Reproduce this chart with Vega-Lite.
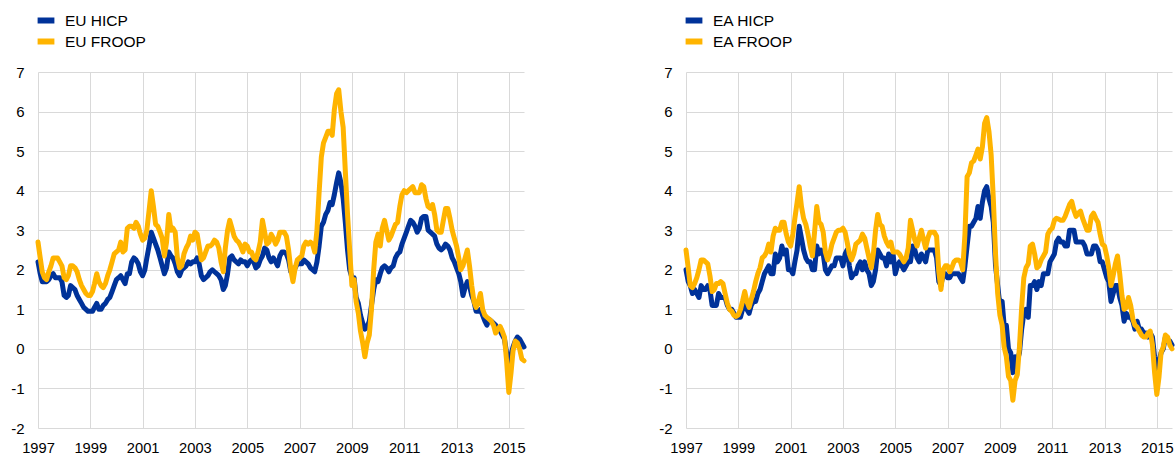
{
  "$schema": "https://vega.github.io/schema/vega-lite/v6.json",
  "padding": {"left": 10, "top": 10, "right": 0, "bottom": 0},
  "background": "white",
  "config": {
    "view": {"stroke": null},
    "axis": {"labelFont": "Liberation Sans", "labelFontSize": 15, "labelColor": "#000000", "gridColor": "#d9d9d9", "gridWidth": 1, "ticks": false, "domain": false, "title": null},
    "legend": {"labelFont": "Liberation Sans", "labelFontSize": 15.5, "labelColor": "#000000"}
  },
  "spacing": 131,
  "resolve": {"scale": {"color": "independent"}},
  "datasets": {
    "d": [
      {"date":"1997-01","EU HICP":2.2,"EU FROOP":2.7,"EA HICP":2.0,"EA FROOP":2.5},
      {"date":"1997-02","EU HICP":1.9,"EU FROOP":2.3,"EA HICP":1.7,"EA FROOP":2.05},
      {"date":"1997-03","EU HICP":1.7,"EU FROOP":1.95,"EA HICP":1.6,"EA FROOP":1.6},
      {"date":"1997-04","EU HICP":1.7,"EU FROOP":1.8,"EA HICP":1.4,"EA FROOP":1.55},
      {"date":"1997-05","EU HICP":1.7,"EU FROOP":1.75,"EA HICP":1.5,"EA FROOP":1.65},
      {"date":"1997-06","EU HICP":1.75,"EU FROOP":1.95,"EA HICP":1.4,"EA FROOP":1.8},
      {"date":"1997-07","EU HICP":1.85,"EU FROOP":2.1,"EA HICP":1.3,"EA FROOP":2.0},
      {"date":"1997-08","EU HICP":1.9,"EU FROOP":2.3,"EA HICP":1.6,"EA FROOP":2.25},
      {"date":"1997-09","EU HICP":1.8,"EU FROOP":2.3,"EA HICP":1.5,"EA FROOP":2.25},
      {"date":"1997-10","EU HICP":1.8,"EU FROOP":2.3,"EA HICP":1.5,"EA FROOP":2.2},
      {"date":"1997-11","EU HICP":1.8,"EU FROOP":2.2,"EA HICP":1.6,"EA FROOP":2.15},
      {"date":"1997-12","EU HICP":1.7,"EU FROOP":2.1,"EA HICP":1.5,"EA FROOP":1.85},
      {"date":"1998-01","EU HICP":1.35,"EU FROOP":1.8,"EA HICP":1.1,"EA FROOP":1.45},
      {"date":"1998-02","EU HICP":1.3,"EU FROOP":1.75,"EA HICP":1.1,"EA FROOP":1.5},
      {"date":"1998-03","EU HICP":1.35,"EU FROOP":1.85,"EA HICP":1.1,"EA FROOP":1.65},
      {"date":"1998-04","EU HICP":1.6,"EU FROOP":2.1,"EA HICP":1.4,"EA FROOP":1.65},
      {"date":"1998-05","EU HICP":1.55,"EU FROOP":2.1,"EA HICP":1.3,"EA FROOP":1.7},
      {"date":"1998-06","EU HICP":1.5,"EU FROOP":2.05,"EA HICP":1.3,"EA FROOP":1.65},
      {"date":"1998-07","EU HICP":1.35,"EU FROOP":1.95,"EA HICP":1.3,"EA FROOP":1.4},
      {"date":"1998-08","EU HICP":1.25,"EU FROOP":1.75,"EA HICP":1.1,"EA FROOP":1.15},
      {"date":"1998-09","EU HICP":1.15,"EU FROOP":1.6,"EA HICP":1.0,"EA FROOP":1.0},
      {"date":"1998-10","EU HICP":1.05,"EU FROOP":1.5,"EA HICP":1.0,"EA FROOP":0.95},
      {"date":"1998-11","EU HICP":1.0,"EU FROOP":1.4,"EA HICP":0.9,"EA FROOP":0.85},
      {"date":"1998-12","EU HICP":0.95,"EU FROOP":1.35,"EA HICP":0.8,"EA FROOP":0.82},
      {"date":"1999-01","EU HICP":0.95,"EU FROOP":1.35,"EA HICP":0.8,"EA FROOP":0.86},
      {"date":"1999-02","EU HICP":0.95,"EU FROOP":1.45,"EA HICP":0.8,"EA FROOP":1.0},
      {"date":"1999-03","EU HICP":1.05,"EU FROOP":1.65,"EA HICP":1.0,"EA FROOP":1.2},
      {"date":"1999-04","EU HICP":1.15,"EU FROOP":1.9,"EA HICP":1.1,"EA FROOP":1.45},
      {"date":"1999-05","EU HICP":1.0,"EU FROOP":1.7,"EA HICP":1.0,"EA FROOP":1.2},
      {"date":"1999-06","EU HICP":1.0,"EU FROOP":1.6,"EA HICP":0.9,"EA FROOP":1.05},
      {"date":"1999-07","EU HICP":1.1,"EU FROOP":1.55,"EA HICP":1.1,"EA FROOP":1.25},
      {"date":"1999-08","EU HICP":1.15,"EU FROOP":1.65,"EA HICP":1.2,"EA FROOP":1.45},
      {"date":"1999-09","EU HICP":1.25,"EU FROOP":1.85,"EA HICP":1.2,"EA FROOP":1.7},
      {"date":"1999-10","EU HICP":1.3,"EU FROOP":2.0,"EA HICP":1.4,"EA FROOP":1.9},
      {"date":"1999-11","EU HICP":1.45,"EU FROOP":2.2,"EA HICP":1.5,"EA FROOP":2.05},
      {"date":"1999-12","EU HICP":1.6,"EU FROOP":2.4,"EA HICP":1.7,"EA FROOP":2.3},
      {"date":"2000-01","EU HICP":1.75,"EU FROOP":2.45,"EA HICP":1.9,"EA FROOP":2.35},
      {"date":"2000-02","EU HICP":1.8,"EU FROOP":2.5,"EA HICP":2.0,"EA FROOP":2.45},
      {"date":"2000-03","EU HICP":1.85,"EU FROOP":2.7,"EA HICP":2.1,"EA FROOP":2.65},
      {"date":"2000-04","EU HICP":1.75,"EU FROOP":2.45,"EA HICP":1.9,"EA FROOP":2.45},
      {"date":"2000-05","EU HICP":1.65,"EU FROOP":2.5,"EA HICP":1.9,"EA FROOP":2.85},
      {"date":"2000-06","EU HICP":1.9,"EU FROOP":3.05,"EA HICP":2.4,"EA FROOP":3.05},
      {"date":"2000-07","EU HICP":1.9,"EU FROOP":3.1,"EA HICP":2.2,"EA FROOP":3.0},
      {"date":"2000-08","EU HICP":2.2,"EU FROOP":3.1,"EA HICP":2.3,"EA FROOP":3.0},
      {"date":"2000-09","EU HICP":2.3,"EU FROOP":3.05,"EA HICP":2.6,"EA FROOP":3.2},
      {"date":"2000-10","EU HICP":2.25,"EU FROOP":3.2,"EA HICP":2.4,"EA FROOP":3.2},
      {"date":"2000-11","EU HICP":2.15,"EU FROOP":3.1,"EA HICP":2.5,"EA FROOP":2.9},
      {"date":"2000-12","EU HICP":1.95,"EU FROOP":2.9,"EA HICP":2.0,"EA FROOP":2.7},
      {"date":"2001-01","EU HICP":1.85,"EU FROOP":2.75,"EA HICP":2.0,"EA FROOP":2.6},
      {"date":"2001-02","EU HICP":2.0,"EU FROOP":2.8,"EA HICP":1.9,"EA FROOP":2.9},
      {"date":"2001-03","EU HICP":2.3,"EU FROOP":3.0,"EA HICP":2.2,"EA FROOP":3.3},
      {"date":"2001-04","EU HICP":2.6,"EU FROOP":3.5,"EA HICP":2.5,"EA FROOP":3.7},
      {"date":"2001-05","EU HICP":2.95,"EU FROOP":4.0,"EA HICP":3.1,"EA FROOP":4.1},
      {"date":"2001-06","EU HICP":2.8,"EU FROOP":3.6,"EA HICP":2.8,"EA FROOP":3.6},
      {"date":"2001-07","EU HICP":2.65,"EU FROOP":3.15,"EA HICP":2.5,"EA FROOP":3.3},
      {"date":"2001-08","EU HICP":2.5,"EU FROOP":3.1,"EA HICP":2.3,"EA FROOP":3.15},
      {"date":"2001-09","EU HICP":2.3,"EU FROOP":2.95,"EA HICP":2.2,"EA FROOP":2.9},
      {"date":"2001-10","EU HICP":2.1,"EU FROOP":2.8,"EA HICP":2.2,"EA FROOP":2.6},
      {"date":"2001-11","EU HICP":1.9,"EU FROOP":2.35,"EA HICP":2.0,"EA FROOP":2.35},
      {"date":"2001-12","EU HICP":2.05,"EU FROOP":2.7,"EA HICP":2.0,"EA FROOP":2.95},
      {"date":"2002-01","EU HICP":2.45,"EU FROOP":3.4,"EA HICP":2.6,"EA FROOP":3.6},
      {"date":"2002-02","EU HICP":2.35,"EU FROOP":3.0,"EA HICP":2.4,"EA FROOP":3.2},
      {"date":"2002-03","EU HICP":2.3,"EU FROOP":3.05,"EA HICP":2.5,"EA FROOP":3.15},
      {"date":"2002-04","EU HICP":2.15,"EU FROOP":2.95,"EA HICP":2.4,"EA FROOP":2.95},
      {"date":"2002-05","EU HICP":1.95,"EU FROOP":2.3,"EA HICP":2.0,"EA FROOP":2.45},
      {"date":"2002-06","EU HICP":1.85,"EU FROOP":2.05,"EA HICP":1.9,"EA FROOP":2.25},
      {"date":"2002-07","EU HICP":2.0,"EU FROOP":2.1,"EA HICP":2.0,"EA FROOP":2.4},
      {"date":"2002-08","EU HICP":2.05,"EU FROOP":2.4,"EA HICP":2.1,"EA FROOP":2.65},
      {"date":"2002-09","EU HICP":2.1,"EU FROOP":2.55,"EA HICP":2.1,"EA FROOP":2.8},
      {"date":"2002-10","EU HICP":2.2,"EU FROOP":2.65,"EA HICP":2.3,"EA FROOP":2.95},
      {"date":"2002-11","EU HICP":2.15,"EU FROOP":2.85,"EA HICP":2.3,"EA FROOP":3.0},
      {"date":"2002-12","EU HICP":2.2,"EU FROOP":2.75,"EA HICP":2.3,"EA FROOP":3.0},
      {"date":"2003-01","EU HICP":2.2,"EU FROOP":2.95,"EA HICP":2.1,"EA FROOP":3.05},
      {"date":"2003-02","EU HICP":2.3,"EU FROOP":2.9,"EA HICP":2.4,"EA FROOP":2.95},
      {"date":"2003-03","EU HICP":2.15,"EU FROOP":2.6,"EA HICP":2.5,"EA FROOP":2.7},
      {"date":"2003-04","EU HICP":1.85,"EU FROOP":2.25,"EA HICP":2.1,"EA FROOP":2.4},
      {"date":"2003-05","EU HICP":1.75,"EU FROOP":2.3,"EA HICP":1.8,"EA FROOP":2.25},
      {"date":"2003-06","EU HICP":1.8,"EU FROOP":2.45,"EA HICP":1.9,"EA FROOP":2.4},
      {"date":"2003-07","EU HICP":1.85,"EU FROOP":2.6,"EA HICP":1.9,"EA FROOP":2.65},
      {"date":"2003-08","EU HICP":1.95,"EU FROOP":2.6,"EA HICP":2.1,"EA FROOP":2.7},
      {"date":"2003-09","EU HICP":2.0,"EU FROOP":2.65,"EA HICP":2.2,"EA FROOP":2.75},
      {"date":"2003-10","EU HICP":1.95,"EU FROOP":2.75,"EA HICP":2.0,"EA FROOP":2.9},
      {"date":"2003-11","EU HICP":1.9,"EU FROOP":2.7,"EA HICP":2.2,"EA FROOP":2.8},
      {"date":"2003-12","EU HICP":1.85,"EU FROOP":2.55,"EA HICP":2.0,"EA FROOP":2.55},
      {"date":"2004-01","EU HICP":1.75,"EU FROOP":2.2,"EA HICP":1.9,"EA FROOP":2.3},
      {"date":"2004-02","EU HICP":1.5,"EU FROOP":1.95,"EA HICP":1.6,"EA FROOP":2.05},
      {"date":"2004-03","EU HICP":1.6,"EU FROOP":2.55,"EA HICP":1.7,"EA FROOP":2.4},
      {"date":"2004-04","EU HICP":1.9,"EU FROOP":3.0,"EA HICP":2.0,"EA FROOP":3.0},
      {"date":"2004-05","EU HICP":2.3,"EU FROOP":3.25,"EA HICP":2.5,"EA FROOP":3.4},
      {"date":"2004-06","EU HICP":2.35,"EU FROOP":3.05,"EA HICP":2.4,"EA FROOP":3.15},
      {"date":"2004-07","EU HICP":2.25,"EU FROOP":2.85,"EA HICP":2.3,"EA FROOP":3.1},
      {"date":"2004-08","EU HICP":2.2,"EU FROOP":2.75,"EA HICP":2.3,"EA FROOP":2.85},
      {"date":"2004-09","EU HICP":2.15,"EU FROOP":2.7,"EA HICP":2.1,"EA FROOP":2.7},
      {"date":"2004-10","EU HICP":2.25,"EU FROOP":2.6,"EA HICP":2.4,"EA FROOP":2.6},
      {"date":"2004-11","EU HICP":2.2,"EU FROOP":2.45,"EA HICP":2.2,"EA FROOP":2.7},
      {"date":"2004-12","EU HICP":2.2,"EU FROOP":2.65,"EA HICP":2.4,"EA FROOP":2.45},
      {"date":"2005-01","EU HICP":2.1,"EU FROOP":2.6,"EA HICP":1.9,"EA FROOP":2.45},
      {"date":"2005-02","EU HICP":2.2,"EU FROOP":2.45,"EA HICP":2.1,"EA FROOP":2.45},
      {"date":"2005-03","EU HICP":2.25,"EU FROOP":2.45,"EA HICP":2.2,"EA FROOP":2.4},
      {"date":"2005-04","EU HICP":2.2,"EU FROOP":2.3,"EA HICP":2.1,"EA FROOP":2.3},
      {"date":"2005-05","EU HICP":2.05,"EU FROOP":2.25,"EA HICP":2.0,"EA FROOP":2.2},
      {"date":"2005-06","EU HICP":2.1,"EU FROOP":2.45,"EA HICP":2.1,"EA FROOP":2.3},
      {"date":"2005-07","EU HICP":2.25,"EU FROOP":2.7,"EA HICP":2.2,"EA FROOP":2.55},
      {"date":"2005-08","EU HICP":2.35,"EU FROOP":3.25,"EA HICP":2.2,"EA FROOP":3.25},
      {"date":"2005-09","EU HICP":2.55,"EU FROOP":2.95,"EA HICP":2.6,"EA FROOP":3.0},
      {"date":"2005-10","EU HICP":2.5,"EU FROOP":2.65,"EA HICP":2.5,"EA FROOP":2.75},
      {"date":"2005-11","EU HICP":2.3,"EU FROOP":2.7,"EA HICP":2.3,"EA FROOP":2.6},
      {"date":"2005-12","EU HICP":2.2,"EU FROOP":2.9,"EA HICP":2.2,"EA FROOP":2.8},
      {"date":"2006-01","EU HICP":2.3,"EU FROOP":2.8,"EA HICP":2.4,"EA FROOP":3.0},
      {"date":"2006-02","EU HICP":2.2,"EU FROOP":2.65,"EA HICP":2.3,"EA FROOP":2.75},
      {"date":"2006-03","EU HICP":2.1,"EU FROOP":2.75,"EA HICP":2.2,"EA FROOP":2.55},
      {"date":"2006-04","EU HICP":2.35,"EU FROOP":2.95,"EA HICP":2.5,"EA FROOP":2.8},
      {"date":"2006-05","EU HICP":2.45,"EU FROOP":2.95,"EA HICP":2.5,"EA FROOP":2.95},
      {"date":"2006-06","EU HICP":2.45,"EU FROOP":2.95,"EA HICP":2.5,"EA FROOP":2.95},
      {"date":"2006-07","EU HICP":2.4,"EU FROOP":2.85,"EA HICP":2.5,"EA FROOP":2.95},
      {"date":"2006-08","EU HICP":2.25,"EU FROOP":2.5,"EA HICP":2.3,"EA FROOP":2.85},
      {"date":"2006-09","EU HICP":1.95,"EU FROOP":2.0,"EA HICP":1.7,"EA FROOP":1.95},
      {"date":"2006-10","EU HICP":1.9,"EU FROOP":1.7,"EA HICP":1.6,"EA FROOP":1.5},
      {"date":"2006-11","EU HICP":2.05,"EU FROOP":2.05,"EA HICP":1.9,"EA FROOP":2.0},
      {"date":"2006-12","EU HICP":2.15,"EU FROOP":2.25,"EA HICP":1.9,"EA FROOP":2.1},
      {"date":"2007-01","EU HICP":2.15,"EU FROOP":2.3,"EA HICP":1.8,"EA FROOP":2.1},
      {"date":"2007-02","EU HICP":2.15,"EU FROOP":2.35,"EA HICP":1.8,"EA FROOP":1.95},
      {"date":"2007-03","EU HICP":2.25,"EU FROOP":2.6,"EA HICP":1.9,"EA FROOP":2.05},
      {"date":"2007-04","EU HICP":2.2,"EU FROOP":2.7,"EA HICP":1.9,"EA FROOP":2.2},
      {"date":"2007-05","EU HICP":2.15,"EU FROOP":2.65,"EA HICP":1.9,"EA FROOP":2.25},
      {"date":"2007-06","EU HICP":2.05,"EU FROOP":2.7,"EA HICP":1.9,"EA FROOP":2.25},
      {"date":"2007-07","EU HICP":2.0,"EU FROOP":2.65,"EA HICP":1.8,"EA FROOP":2.2},
      {"date":"2007-08","EU HICP":1.95,"EU FROOP":2.45,"EA HICP":1.7,"EA FROOP":2.0},
      {"date":"2007-09","EU HICP":2.2,"EU FROOP":3.0,"EA HICP":2.1,"EA FROOP":2.9},
      {"date":"2007-10","EU HICP":2.6,"EU FROOP":3.95,"EA HICP":2.6,"EA FROOP":4.35},
      {"date":"2007-11","EU HICP":3.1,"EU FROOP":4.85,"EA HICP":3.1,"EA FROOP":4.45},
      {"date":"2007-12","EU HICP":3.2,"EU FROOP":5.2,"EA HICP":3.1,"EA FROOP":4.7},
      {"date":"2008-01","EU HICP":3.4,"EU FROOP":5.35,"EA HICP":3.2,"EA FROOP":4.75},
      {"date":"2008-02","EU HICP":3.5,"EU FROOP":5.5,"EA HICP":3.3,"EA FROOP":4.9},
      {"date":"2008-03","EU HICP":3.7,"EU FROOP":5.5,"EA HICP":3.6,"EA FROOP":5.05},
      {"date":"2008-04","EU HICP":3.65,"EU FROOP":5.4,"EA HICP":3.3,"EA FROOP":4.8},
      {"date":"2008-05","EU HICP":3.9,"EU FROOP":6.05,"EA HICP":3.7,"EA FROOP":5.1},
      {"date":"2008-06","EU HICP":4.2,"EU FROOP":6.45,"EA HICP":4.0,"EA FROOP":5.7},
      {"date":"2008-07","EU HICP":4.45,"EU FROOP":6.55,"EA HICP":4.1,"EA FROOP":5.85},
      {"date":"2008-08","EU HICP":4.2,"EU FROOP":6.0,"EA HICP":3.8,"EA FROOP":5.5},
      {"date":"2008-09","EU HICP":3.8,"EU FROOP":5.6,"EA HICP":3.6,"EA FROOP":4.9},
      {"date":"2008-10","EU HICP":3.2,"EU FROOP":4.5,"EA HICP":3.2,"EA FROOP":3.8},
      {"date":"2008-11","EU HICP":2.5,"EU FROOP":3.4,"EA HICP":2.1,"EA FROOP":2.4},
      {"date":"2008-12","EU HICP":2.0,"EU FROOP":2.5,"EA HICP":1.6,"EA FROOP":1.4},
      {"date":"2009-01","EU HICP":1.8,"EU FROOP":1.6,"EA HICP":1.1,"EA FROOP":0.85},
      {"date":"2009-02","EU HICP":1.8,"EU FROOP":1.75,"EA HICP":1.2,"EA FROOP":0.6},
      {"date":"2009-03","EU HICP":1.3,"EU FROOP":1.2,"EA HICP":0.6,"EA FROOP":0.05},
      {"date":"2009-04","EU HICP":1.15,"EU FROOP":0.9,"EA HICP":0.6,"EA FROOP":-0.2},
      {"date":"2009-05","EU HICP":0.85,"EU FROOP":0.45,"EA HICP":0.0,"EA FROOP":-0.7},
      {"date":"2009-06","EU HICP":0.65,"EU FROOP":0.15,"EA HICP":-0.1,"EA FROOP":-0.8},
      {"date":"2009-07","EU HICP":0.5,"EU FROOP":-0.2,"EA HICP":-0.6,"EA FROOP":-1.3},
      {"date":"2009-08","EU HICP":0.55,"EU FROOP":0.15,"EA HICP":-0.2,"EA FROOP":-0.8},
      {"date":"2009-09","EU HICP":0.7,"EU FROOP":0.35,"EA HICP":-0.3,"EA FROOP":-0.65},
      {"date":"2009-10","EU HICP":1.1,"EU FROOP":1.0,"EA HICP":-0.1,"EA FROOP":0.05},
      {"date":"2009-11","EU HICP":1.5,"EU FROOP":2.0,"EA HICP":0.5,"EA FROOP":1.05},
      {"date":"2009-12","EU HICP":1.75,"EU FROOP":2.7,"EA HICP":0.9,"EA FROOP":1.8},
      {"date":"2010-01","EU HICP":1.7,"EU FROOP":2.9,"EA HICP":1.0,"EA FROOP":2.05},
      {"date":"2010-02","EU HICP":1.9,"EU FROOP":2.6,"EA HICP":0.8,"EA FROOP":2.15},
      {"date":"2010-03","EU HICP":2.05,"EU FROOP":3.05,"EA HICP":1.6,"EA FROOP":2.6},
      {"date":"2010-04","EU HICP":2.1,"EU FROOP":3.25,"EA HICP":1.6,"EA FROOP":2.65},
      {"date":"2010-05","EU HICP":2.05,"EU FROOP":3.0,"EA HICP":1.7,"EA FROOP":2.4},
      {"date":"2010-06","EU HICP":1.95,"EU FROOP":2.75,"EA HICP":1.5,"EA FROOP":2.05},
      {"date":"2010-07","EU HICP":2.05,"EU FROOP":2.85,"EA HICP":1.7,"EA FROOP":2.1},
      {"date":"2010-08","EU HICP":2.1,"EU FROOP":3.0,"EA HICP":1.6,"EA FROOP":2.25},
      {"date":"2010-09","EU HICP":2.3,"EU FROOP":3.15,"EA HICP":1.9,"EA FROOP":2.35},
      {"date":"2010-10","EU HICP":2.4,"EU FROOP":3.2,"EA HICP":1.9,"EA FROOP":2.45},
      {"date":"2010-11","EU HICP":2.45,"EU FROOP":3.6,"EA HICP":1.9,"EA FROOP":2.9},
      {"date":"2010-12","EU HICP":2.65,"EU FROOP":3.9,"EA HICP":2.2,"EA FROOP":3.0},
      {"date":"2011-01","EU HICP":2.8,"EU FROOP":4.0,"EA HICP":2.3,"EA FROOP":3.05},
      {"date":"2011-02","EU HICP":2.95,"EU FROOP":3.95,"EA HICP":2.4,"EA FROOP":3.25},
      {"date":"2011-03","EU HICP":3.1,"EU FROOP":4.0,"EA HICP":2.7,"EA FROOP":3.3},
      {"date":"2011-04","EU HICP":3.25,"EU FROOP":4.05,"EA HICP":2.8,"EA FROOP":3.28},
      {"date":"2011-05","EU HICP":3.2,"EU FROOP":4.1,"EA HICP":2.7,"EA FROOP":3.25},
      {"date":"2011-06","EU HICP":3.1,"EU FROOP":3.95,"EA HICP":2.7,"EA FROOP":3.25},
      {"date":"2011-07","EU HICP":2.95,"EU FROOP":3.95,"EA HICP":2.6,"EA FROOP":3.35},
      {"date":"2011-08","EU HICP":3.05,"EU FROOP":3.95,"EA HICP":2.6,"EA FROOP":3.5},
      {"date":"2011-09","EU HICP":3.3,"EU FROOP":4.15,"EA HICP":3.0,"EA FROOP":3.65},
      {"date":"2011-10","EU HICP":3.35,"EU FROOP":4.1,"EA HICP":3.0,"EA FROOP":3.73},
      {"date":"2011-11","EU HICP":3.35,"EU FROOP":3.8,"EA HICP":3.0,"EA FROOP":3.5},
      {"date":"2011-12","EU HICP":3.0,"EU FROOP":3.6,"EA HICP":2.7,"EA FROOP":3.35},
      {"date":"2012-01","EU HICP":2.95,"EU FROOP":3.55,"EA HICP":2.7,"EA FROOP":3.43},
      {"date":"2012-02","EU HICP":2.9,"EU FROOP":3.65,"EA HICP":2.7,"EA FROOP":3.48},
      {"date":"2012-03","EU HICP":2.85,"EU FROOP":3.4,"EA HICP":2.7,"EA FROOP":3.3},
      {"date":"2012-04","EU HICP":2.65,"EU FROOP":3.0,"EA HICP":2.6,"EA FROOP":3.15},
      {"date":"2012-05","EU HICP":2.55,"EU FROOP":2.95,"EA HICP":2.4,"EA FROOP":3.0},
      {"date":"2012-06","EU HICP":2.5,"EU FROOP":2.95,"EA HICP":2.4,"EA FROOP":3.0},
      {"date":"2012-07","EU HICP":2.55,"EU FROOP":3.25,"EA HICP":2.4,"EA FROOP":3.35},
      {"date":"2012-08","EU HICP":2.65,"EU FROOP":3.55,"EA HICP":2.6,"EA FROOP":3.43},
      {"date":"2012-09","EU HICP":2.6,"EU FROOP":3.55,"EA HICP":2.6,"EA FROOP":3.3},
      {"date":"2012-10","EU HICP":2.5,"EU FROOP":3.3,"EA HICP":2.5,"EA FROOP":3.2},
      {"date":"2012-11","EU HICP":2.3,"EU FROOP":3.0,"EA HICP":2.2,"EA FROOP":2.9},
      {"date":"2012-12","EU HICP":2.2,"EU FROOP":2.8,"EA HICP":2.2,"EA FROOP":2.65},
      {"date":"2013-01","EU HICP":2.05,"EU FROOP":2.6,"EA HICP":2.0,"EA FROOP":2.6},
      {"date":"2013-02","EU HICP":1.9,"EU FROOP":2.3,"EA HICP":1.8,"EA FROOP":2.35},
      {"date":"2013-03","EU HICP":1.7,"EU FROOP":2.0,"EA HICP":1.7,"EA FROOP":2.05},
      {"date":"2013-04","EU HICP":1.35,"EU FROOP":2.1,"EA HICP":1.2,"EA FROOP":1.6},
      {"date":"2013-05","EU HICP":1.55,"EU FROOP":2.3,"EA HICP":1.4,"EA FROOP":1.85},
      {"date":"2013-06","EU HICP":1.7,"EU FROOP":2.5,"EA HICP":1.6,"EA FROOP":2.15},
      {"date":"2013-07","EU HICP":1.6,"EU FROOP":2.1,"EA HICP":1.6,"EA FROOP":2.35},
      {"date":"2013-08","EU HICP":1.35,"EU FROOP":1.6,"EA HICP":1.3,"EA FROOP":1.9},
      {"date":"2013-09","EU HICP":1.2,"EU FROOP":1.2,"EA HICP":1.1,"EA FROOP":1.35},
      {"date":"2013-10","EU HICP":0.95,"EU FROOP":1.05,"EA HICP":0.7,"EA FROOP":1.0},
      {"date":"2013-11","EU HICP":0.95,"EU FROOP":1.2,"EA HICP":0.9,"EA FROOP":1.05},
      {"date":"2013-12","EU HICP":1.0,"EU FROOP":1.4,"EA HICP":0.8,"EA FROOP":1.3},
      {"date":"2014-01","EU HICP":0.85,"EU FROOP":1.0,"EA HICP":0.8,"EA FROOP":1.1},
      {"date":"2014-02","EU HICP":0.7,"EU FROOP":0.85,"EA HICP":0.7,"EA FROOP":0.75},
      {"date":"2014-03","EU HICP":0.6,"EU FROOP":0.8,"EA HICP":0.5,"EA FROOP":0.6},
      {"date":"2014-04","EU HICP":0.75,"EU FROOP":0.75,"EA HICP":0.7,"EA FROOP":0.55},
      {"date":"2014-05","EU HICP":0.7,"EU FROOP":0.7,"EA HICP":0.5,"EA FROOP":0.45},
      {"date":"2014-06","EU HICP":0.65,"EU FROOP":0.6,"EA HICP":0.5,"EA FROOP":0.35},
      {"date":"2014-07","EU HICP":0.6,"EU FROOP":0.4,"EA HICP":0.4,"EA FROOP":0.3},
      {"date":"2014-08","EU HICP":0.5,"EU FROOP":0.5,"EA HICP":0.4,"EA FROOP":0.3},
      {"date":"2014-09","EU HICP":0.45,"EU FROOP":0.57,"EA HICP":0.3,"EA FROOP":0.4},
      {"date":"2014-10","EU HICP":0.35,"EU FROOP":0.45,"EA HICP":0.4,"EA FROOP":0.45},
      {"date":"2014-11","EU HICP":0.25,"EU FROOP":0.3,"EA HICP":0.3,"EA FROOP":0.1},
      {"date":"2014-12","EU HICP":-0.1,"EU FROOP":-0.3,"EA HICP":-0.2,"EA FROOP":-0.6},
      {"date":"2015-01","EU HICP":-0.4,"EU FROOP":-1.1,"EA HICP":-0.6,"EA FROOP":-1.15},
      {"date":"2015-02","EU HICP":-0.15,"EU FROOP":-0.6,"EA HICP":-0.3,"EA FROOP":-0.7},
      {"date":"2015-03","EU HICP":0.05,"EU FROOP":-0.05,"EA HICP":-0.1,"EA FROOP":-0.1},
      {"date":"2015-04","EU HICP":0.2,"EU FROOP":0.2,"EA HICP":0.0,"EA FROOP":0.05},
      {"date":"2015-05","EU HICP":0.3,"EU FROOP":0.15,"EA HICP":0.3,"EA FROOP":0.35},
      {"date":"2015-06","EU HICP":0.25,"EU FROOP":0.0,"EA HICP":0.2,"EA FROOP":0.3},
      {"date":"2015-07","EU HICP":0.15,"EU FROOP":-0.25,"EA HICP":0.2,"EA FROOP":0.1},
      {"date":"2015-08","EU HICP":0.05,"EU FROOP":-0.3,"EA HICP":0.1,"EA FROOP":0.0}
    ]
  },
  "hconcat": [
    {
      "width": 486,
      "height": 356,
      "data": {"name": "d"},
      "transform": [{"fold": ["EU HICP", "EU FROOP"], "as": ["series", "value"]}],
      "mark": {"type": "line", "strokeWidth": 5, "strokeJoin": "round", "strokeCap": "round"},
      "encoding": {
        "x": {
          "field": "date", "type": "temporal",
          "scale": {"type": "utc", "domain": [{"year": 1997, "month": 1, "date": 1, "utc": true}, {"year": 2015, "month": 8, "date": 1, "utc": true}]},
          "axis": {"values": [{"year": 1997, "utc": true}, {"year": 1999, "utc": true}, {"year": 2001, "utc": true}, {"year": 2003, "utc": true}, {"year": 2005, "utc": true}, {"year": 2007, "utc": true}, {"year": 2009, "utc": true}, {"year": 2011, "utc": true}, {"year": 2013, "utc": true}, {"year": 2015, "utc": true}], "format": "%Y", "labelPadding": 12.5, "labelFontSize": 14.7, "labelOverlap": false, "labelFlush": false, "labelAngle": 0}
        },
        "y": {
          "field": "value", "type": "quantitative",
          "scale": {"domain": [-2, 7], "nice": false, "zero": false},
          "axis": {"values": [-2, -1, 0, 1, 2, 3, 4, 5, 6, 7], "labelPadding": 14, "labelExpr": "datum.value < 0 ? '-' + abs(datum.value) : '' + datum.value"}
        },
        "color": {
          "field": "series", "type": "nominal",
          "scale": {"domain": ["EU HICP", "EU FROOP"], "range": ["#003299", "#FFB400"]},
          "legend": {"orient": "none", "legendX": -1, "legendY": -62, "direction": "vertical", "title": null, "symbolType": "M-1.4,0H1.4", "symbolSize": 144, "symbolStrokeWidth": 6, "labelOffset": 10, "rowPadding": 0, "clipHeight": 21}
        }
      }
    },
    {
      "width": 486,
      "height": 356,
      "data": {"name": "d"},
      "transform": [{"fold": ["EA HICP", "EA FROOP"], "as": ["series", "value"]}],
      "mark": {"type": "line", "strokeWidth": 5, "strokeJoin": "round", "strokeCap": "round"},
      "encoding": {
        "x": {
          "field": "date", "type": "temporal",
          "scale": {"type": "utc", "domain": [{"year": 1997, "month": 1, "date": 1, "utc": true}, {"year": 2015, "month": 8, "date": 1, "utc": true}]},
          "axis": {"values": [{"year": 1997, "utc": true}, {"year": 1999, "utc": true}, {"year": 2001, "utc": true}, {"year": 2003, "utc": true}, {"year": 2005, "utc": true}, {"year": 2007, "utc": true}, {"year": 2009, "utc": true}, {"year": 2011, "utc": true}, {"year": 2013, "utc": true}, {"year": 2015, "utc": true}], "format": "%Y", "labelPadding": 12.5, "labelFontSize": 14.7, "labelOverlap": false, "labelFlush": false, "labelAngle": 0}
        },
        "y": {
          "field": "value", "type": "quantitative",
          "scale": {"domain": [-2, 7], "nice": false, "zero": false},
          "axis": {"values": [-2, -1, 0, 1, 2, 3, 4, 5, 6, 7], "labelPadding": 14, "labelExpr": "datum.value < 0 ? '-' + abs(datum.value) : '' + datum.value"}
        },
        "color": {
          "field": "series", "type": "nominal",
          "scale": {"domain": ["EA HICP", "EA FROOP"], "range": ["#003299", "#FFB400"]},
          "legend": {"orient": "none", "legendX": -1, "legendY": -62, "direction": "vertical", "title": null, "symbolType": "M-1.4,0H1.4", "symbolSize": 144, "symbolStrokeWidth": 6, "labelOffset": 10, "rowPadding": 0, "clipHeight": 21}
        }
      }
    }
  ]
}
